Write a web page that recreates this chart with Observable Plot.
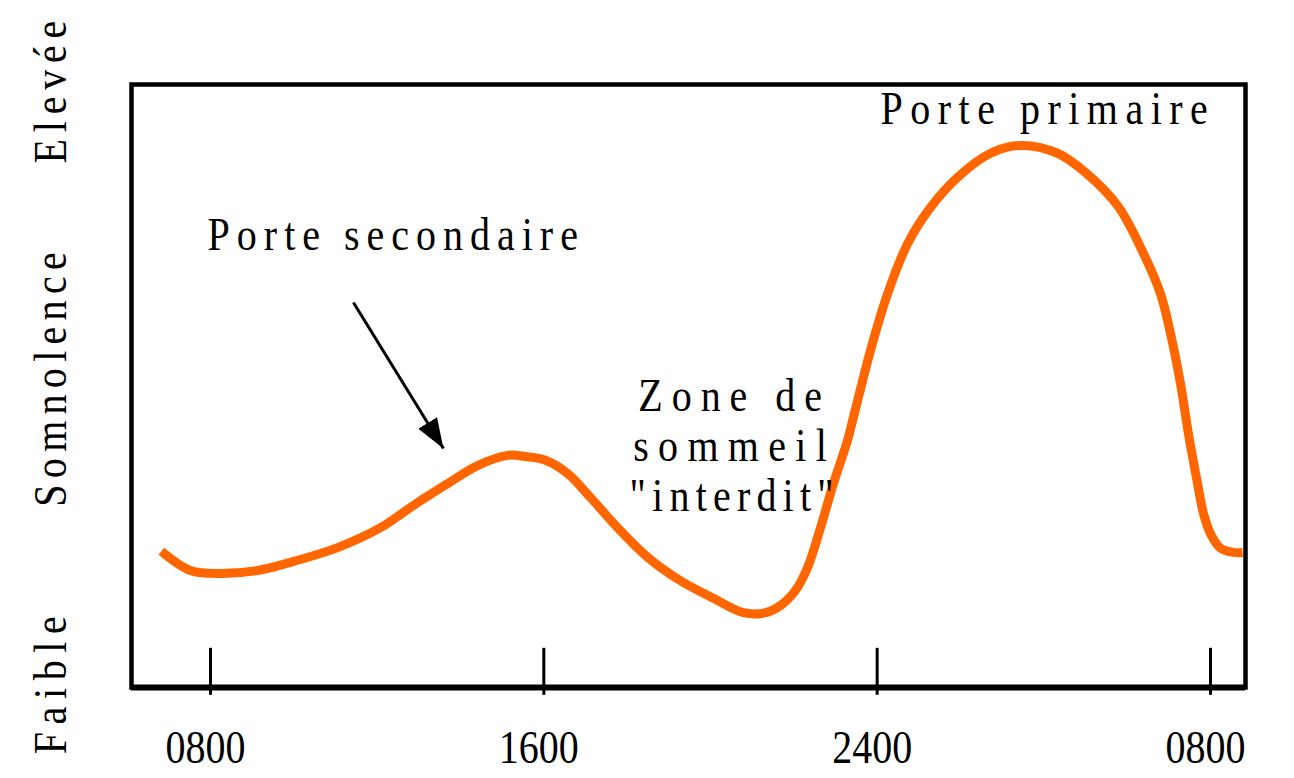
<!DOCTYPE html>
<html>
<head>
<meta charset="utf-8">
<script src="https://cdn.jsdelivr.net/npm/d3@7"></script>
<script src="https://cdn.jsdelivr.net/npm/@observablehq/plot@0.6"></script>
<style>
  html, body { margin: 0; padding: 0; background: #fff; }
</style>
</head>
<body>
<div id="chart"></div>
<script>
// Hour of day (8 = 08:00, 24 = 24:00, 32 = 08:00 next day)
const hours = [6.82, 7.52, 8.24, 9.13, 10.09, 11.05, 12.08, 12.87, 13.69, 14.41, 15.13, 15.56, 16.04, 16.57,
  17.12, 17.77, 18.49, 19.28, 20.07, 20.79, 21.32, 21.68, 22.04, 22.33, 22.64, 22.95, 23.29, 23.43, 23.84,
  24.25, 24.73, 25.28, 25.93, 26.72, 27.44, 28.33, 29.00, 29.77, 30.39, 30.80, 31.04, 31.28, 31.47, 31.69,
  31.83, 32.00, 32.24, 32.55, 32.77];
// Sleepiness level (0 = Faible, 100 = Elevée)
const sleepiness = [22.6, 19.4, 18.9, 19.4, 21.1, 23.2, 26.5, 30.2, 33.8, 36.8, 38.5, 38.3, 37.7, 35.5,
  31.5, 26.5, 21.6, 17.7, 14.8, 12.4, 12.4, 13.6, 16.1, 19.9, 26.5, 33.8, 41.0, 44.8, 55.9,
  65.3, 73.6, 79.6, 84.6, 88.6, 89.9, 88.6, 85.4, 79.9, 72.0, 65.3, 58.7, 50.4, 42.1, 33.8,
  28.9, 25.5, 23.1, 22.4, 22.4];

const tickValues = [8, 16, 24, 32];
const tickLabels = ["0800", "1600", "2400", "0800"];

const yLabels = ["Faible", "Somnolence", "Elevée"];
const yLabelLevels = [1.0, 51.6, 99.3];

const annoTexts = ["Porte secondaire", "Porte primaire"];
const annoHours = [7.93, 24.08];
const annoLevels = [72.6, 93.5];

const zoneText = ["Zone de\nsommeil\n\"interdit\""];
const zoneHour = [20.58];
const zoneLevel = [29.35];

const arrowFrom = [{h: 11.43, v: 63.85}];
const arrowTo = [{h: 13.59, v: 39.64}];

const curve = hours.map((h, i) => ({h, v: sleepiness[i]}));
const arrows = arrowFrom.map((a, i) => ({x1: a.h, y1: a.v, x2: arrowTo[i].h, y2: arrowTo[i].v}));
const annos = annoTexts.map((t, i) => ({t, h: annoHours[i], v: annoLevels[i]}));
const zone = zoneText.map((t, i) => ({t, h: zoneHour[i], v: zoneLevel[i]}));
const ylab = yLabels.map((t, i) => ({t, v: yLabelLevels[i]}));

const FS = 40;
const K = 1.17;
const svg = Plot.plot({
  width: 1294,
  height: 778,
  marginLeft: 131,
  marginRight: 49,
  marginTop: 84,
  marginBottom: 91,
  style: {fontFamily: "'Liberation Serif', 'Times New Roman', serif", fontSize: FS + "px", color: "#000", background: "#fff"},
  x: {domain: [6.104, 32.84], axis: null},
  y: {domain: [0, 100], axis: null},
  marks: [
    Plot.ruleX(tickValues, {x: d => d, y1: -1.3, y2: 6.5, stroke: "#000", strokeWidth: 3}),
    Plot.line(curve, {x: "h", y: "v", curve: "catmull-rom", stroke: "#ff6600", strokeWidth: 9, strokeLinecap: "butt", strokeLinejoin: "round"}),
    Plot.link(arrows, {x1: "x1", y1: "y1", x2: "x2", y2: "y2", stroke: "#000", strokeWidth: 3, markerEnd: "arrow"}),
    Plot.text(annos, {x: "h", y: "v", text: "t", textAnchor: "start", lineAnchor: "bottom", fontSize: FS, fill: "#000"}),
    Plot.text(zone, {x: "h", y: "v", text: "t", textAnchor: "middle", lineAnchor: "bottom", lineHeight: 50 / (FS * K), fontSize: FS, fill: "#000"}),
    Plot.text(ylab, {frameAnchor: "left", y: "v", text: "t", rotate: -90, textAnchor: "middle", lineAnchor: "bottom", dx: -66, fontSize: FS, fill: "#000"}),
    Plot.axisX({ticks: tickValues, tickFormat: d => tickLabels[tickValues.indexOf(d)], tickSize: 0, tickPadding: 42, fontSize: FS, dx: -5, anchor: "bottom"}),
    Plot.frame({stroke: "#000", strokeWidth: 4.5}),
    Plot.ruleY([0], {stroke: "#000", strokeWidth: 6})
  ]
});

// Tall serif lettering like the original: stretch text vertically, add letter spacing
const spacing = {"Zone de": 9, "sommeil": 9.3, "\"interdit\"": 6.2, "Porte secondaire": 7, "Porte primaire": 7.5,
  "Somnolence": 6.3, "Faible": 7.6, "Elevée": 6.8};
svg.querySelectorAll("text").forEach(t => {
  const tr = t.getAttribute("transform");
  if (tr) t.setAttribute("transform", tr + ` scale(1,${K})`);
  else {
    const x = +(t.getAttribute("x") || 0), y = +(t.getAttribute("y") || 0);
    t.setAttribute("transform", `translate(${x},${y}) scale(1,${K})`);
    t.removeAttribute("x"); t.removeAttribute("y");
  }
  const tspans = t.querySelectorAll("tspan");
  if (tspans.length) {
    tspans.forEach(s => { const ls = spacing[s.textContent]; if (ls != null) s.setAttribute("letter-spacing", ls); });
  } else {
    const ls = spacing[t.textContent];
    if (ls != null) t.setAttribute("letter-spacing", ls);
  }
});

// Filled triangular arrow head
svg.querySelectorAll("marker").forEach(m => {
  m.setAttribute("viewBox", "-30 -11 30 22");
  m.setAttribute("markerUnits", "userSpaceOnUse");
  m.setAttribute("markerWidth", 30);
  m.setAttribute("markerHeight", 22);
  m.setAttribute("refX", 0);
  m.setAttribute("refY", 0);
  m.setAttribute("fill", "#000");
  m.setAttribute("stroke", "none");
  while (m.firstChild) m.removeChild(m.firstChild);
  const p = document.createElementNS("http://www.w3.org/2000/svg", "path");
  p.setAttribute("d", "M-30,-11L0,0L-30,11Z");
  m.appendChild(p);
});

document.getElementById("chart").appendChild(svg);
</script>
</body>
</html>
